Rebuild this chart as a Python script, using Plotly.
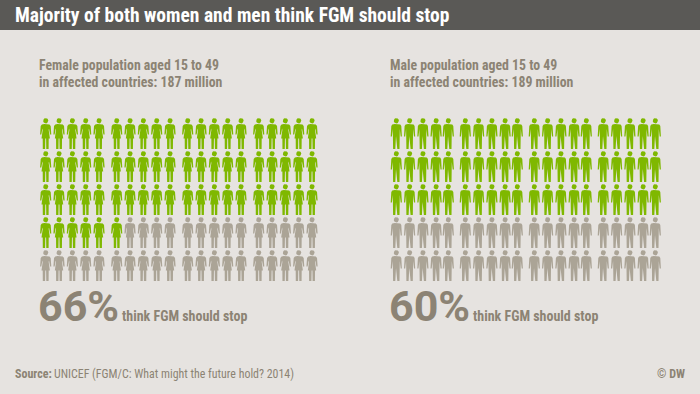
import numpy as np
import plotly.graph_objects as go

TITLE = "Majority of both women and men think FGM should stop"
panel_lines = [["Female population aged 15 to 49", "in affected countries: 187 million"],
               ["Male population aged 15 to 49", "in affected countries: 189 million"]]
shares = [66, 60]
suffix = "think FGM should stop"
source_label = "Source:"
source_text = "UNICEF (FGM/C: What might the future hold? 2014)"
credit = "© DW"

BG, BAR, GREEN, GREY, TXT = "#e6e3e0", "#5a5956", "#7fb800", "#aba496", "#8c8374"
FONT = "Roboto Condensed, Roboto, sans-serif"
BIG = "Roboto, sans-serif"
RN = 5
row_tops = 118 + 33 * np.arange(RN)
f_cols = [45.7 + 71 * g + 13.33 * i for g in range(4) for i in range(5)]
m_cols = [396.3 + 69 * g + k for g in range(4) for k in (0, 13.3, 26.6, 39.8, 52)]

t = np.linspace(0, 2 * np.pi, 14)
head = list(zip(2.6 * np.cos(t), 2.7 + 2.7 * np.sin(t)))
female = [(-1.5, 6), (1.5, 6), (3.8, 6.6), (5, 8), (5.6, 16.5), (4.4, 16.5), (3.3, 10.5), (3, 12), (4.2, 20.5),
          (3, 20.5), (2.9, 31), (0.6, 31), (0.4, 20.5), (-0.4, 20.5), (-0.6, 31), (-2.9, 31), (-3, 20.5), (-4.2, 20.5),
          (-3, 12), (-3.3, 10.5), (-4.4, 16.5), (-5.6, 16.5), (-5, 8), (-3.8, 6.6)]
male = [(-1.5, 6), (1.5, 6), (4, 6.5), (5, 8), (5.6, 18.5), (4.4, 18.5), (3.5, 11), (3.4, 18), (3.2, 31), (1, 31),
        (0.3, 18), (-0.3, 18), (-1, 31), (-3.2, 31), (-3.4, 18), (-3.5, 11), (-4.4, 18.5), (-5.6, 18.5), (-5, 8), (-4, 6.5)]


def people(cols, template, idx):
    xs, ys = [], []
    for i in idx:
        cx, top = cols[i % 20], row_tops[i // 20]
        for poly in (head, template):
            xs += [cx + p[0] for p in poly] + [cx + poly[0][0], None]
            ys += [top + p[1] for p in poly] + [top + poly[0][1], None]
    return xs, ys


fig = go.Figure()
for cols, tpl, share in ((f_cols, female, shares[0]), (m_cols, male, shares[1])):
    for idx, col in ((range(share), GREEN), (range(share, 100), GREY)):
        x, y = people(cols, tpl, idx)
        fig.add_trace(go.Scatter(x=x, y=y, mode="lines", fill="toself", fillcolor=col,
                                 line=dict(width=0, color=col), hoverinfo="skip", showlegend=False))


def txt(x, y, s, size, color=TXT, anchor="left", bold=True, font=FONT):
    fig.add_annotation(x=x, y=y, text=f"<b>{s}</b>" if bold else s, showarrow=False, xref="x", yref="y",
                       xanchor=anchor, yanchor="middle", align="left", borderpad=0, borderwidth=0,
                       font=dict(family=font, size=size, color=color))


txt(15, 15, TITLE, 19.5, "#ffffff")
for x0, lines, share, sx in ((39, panel_lines[0], shares[0], 122), (390, panel_lines[1], shares[1], 473)):
    txt(x0, 65, lines[0], 13.8)
    txt(x0, 81.5, lines[1], 13.8)
    txt(x0 - 1, 306, f"{share}%", 43, font=BIG)
    txt(sx, 316, suffix, 14)
txt(15, 374, source_label, 12)
txt(54, 374, source_text, 11.9, bold=False)
txt(685, 374, credit, 12, anchor="right")

fig.update_layout(
    width=700, height=394, margin=dict(l=0, r=0, t=0, b=0), autosize=False,
    paper_bgcolor=BG, plot_bgcolor=BG,
    xaxis=dict(range=[0, 700], visible=False, fixedrange=True),
    yaxis=dict(range=[394, 0], visible=False, fixedrange=True),
    shapes=[dict(type="rect", xref="paper", yref="y", x0=0, x1=1, y0=0, y1=30, fillcolor=BAR, line_width=0, layer="below")],
)
fig.write_html("out.html", config={"displayModeBar": False},
               post_script="document.body.style.margin='0';document.body.style.background='%s';" % BG)
